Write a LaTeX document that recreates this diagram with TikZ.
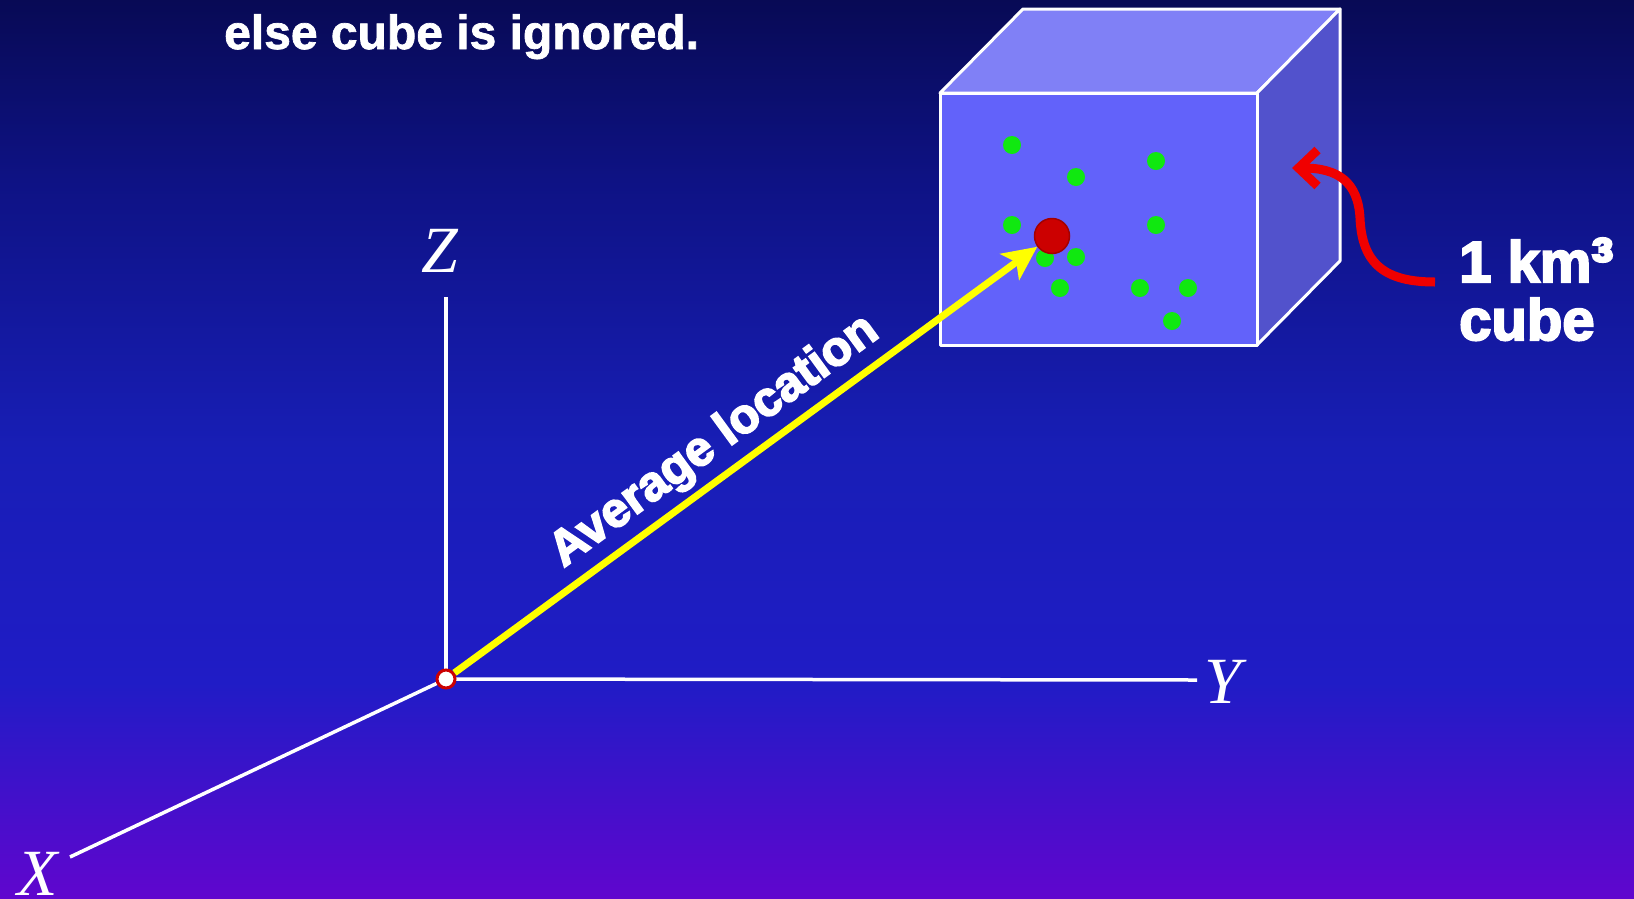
\documentclass[tikz,border=0pt]{standalone}
\usepackage{fontspec}
\setmainfont{Liberation Serif}
\newfontfamily\notefont{Liberation Sans}[BoldFeatures={FakeBold=1.5}]
\newfontfamily\labelfont{Liberation Sans}[BoldFeatures={FakeBold=3.5}]
\usetikzlibrary{arrows.meta}
\definecolor{bgtop}{RGB}{8,10,85}
\definecolor{bgupper}{RGB}{14,18,132}
\definecolor{bgmid}{RGB}{24,30,182}
\definecolor{bglow}{RGB}{32,28,198}
\definecolor{bgbot}{RGB}{96,6,206}
\definecolor{facefront}{RGB}{98,98,250}
\definecolor{facetop}{RGB}{128,128,246}
\definecolor{faceside}{RGB}{82,82,204}
\definecolor{dotgreen}{RGB}{16,232,16}
\definecolor{dotred}{RGB}{204,0,0}
\definecolor{pathyellow}{RGB}{255,255,0}
\definecolor{pathred}{RGB}{240,0,0}
\pgfdeclareverticalshading{slidebg}{100bp}{color(0bp)=(bgbot); color(25bp)=(bgbot);
 color(37bp)=(bglow); color(50bp)=(bgmid); color(65bp)=(bgupper); color(75bp)=(bgtop);
 color(100bp)=(bgtop)}

\begin{document}
\begin{tikzpicture}[x=1pt,y=-1pt,
 axis/.style={draw=white,line width=3.5pt},
 axislabel/.style={text=white,font=\fontsize{66}{66}\selectfont\itshape,inner sep=0pt,anchor=base},
 cubeedge/.style={draw=white,line width=3pt,line join=round},
 greendot/.style={circle,fill=dotgreen,inner sep=0pt,minimum size=18pt},
 bigtext/.style={text=white,font=\labelfont\bfseries\fontsize{58}{58}\selectfont,inner sep=0pt,anchor=base west}]
\shade[shading=slidebg] (0,0) rectangle (1634,898);
\useasboundingbox (0,0) rectangle (1634,898);

\node[text=white,font=\notefont\bfseries\fontsize{48}{48}\selectfont,inner sep=0pt,anchor=base west]
 (note) at (224,49) {else cube is ignored.};

\filldraw[cubeedge,fill=facetop] (940,93) -- (1023,9) -- (1340,9) -- (1257,93) -- cycle;
\filldraw[cubeedge,fill=faceside] (1257,93) -- (1340,9) -- (1340,261) -- (1257,345) -- cycle;
\filldraw[cubeedge,fill=facefront] (940,93) rectangle (1257,345);
\foreach \x/\y [count=\i] in {1012/145,1076/177,1156/161,1012/225,1156/225,1045/258,
 1076/257,1060/288,1140/288,1188/288,1172/321}
 \node[greendot] (g\i) at (\x,\y) {};
\node[circle,fill=dotred,draw=dotred!80!black,line width=1.5pt,minimum size=35pt,inner sep=0pt]
 (avg) at (1052,236) {};

\coordinate (org) at (446,679);
\coordinate (xend) at (70,857);
\coordinate (yend) at (1197,680);
\coordinate (zend) at (446,297);
\draw[axis] (org) -- (xend);
\draw[axis] (org) -- (yend);
\draw[axis] (org) -- (zend);
\node[axislabel] (xlbl) at (38,895) {X};
\node[axislabel] (ylbl) at (1223,703) {Y};
\node[axislabel] (zlbl) at (440,272) {Z};

\node[circle,fill=white,draw=dotred,line width=3pt,minimum size=18pt,inner sep=0pt] (o) at (org) {};
\draw[-{Stealth[length=34pt,width=32pt,inset=8pt]},pathyellow,line width=7pt] (o) --
 node[sloped,above=3pt,pos=0.48,text=white,font=\labelfont\bfseries\fontsize{49}{49}\selectfont]
 {Average location} (avg);

\node[bigtext] (km) at (1459,282) {1 km\raisebox{-2pt}{\fontsize{66}{66}\selectfont ³}};
\node[bigtext] (cubelbl) at (1459,340) {cube};
\coordinate (sideface) at (1292,168);
\draw[pathred,line width=9pt,-{Straight Barb[length=19pt,width=36pt]}]
 ([xshift=-24pt]km.base west) .. controls (1385,282) and (1362,264) .. (1360,218)
 .. controls (1358,182) and (1338,168) .. (sideface);
\end{tikzpicture}
\end{document}
